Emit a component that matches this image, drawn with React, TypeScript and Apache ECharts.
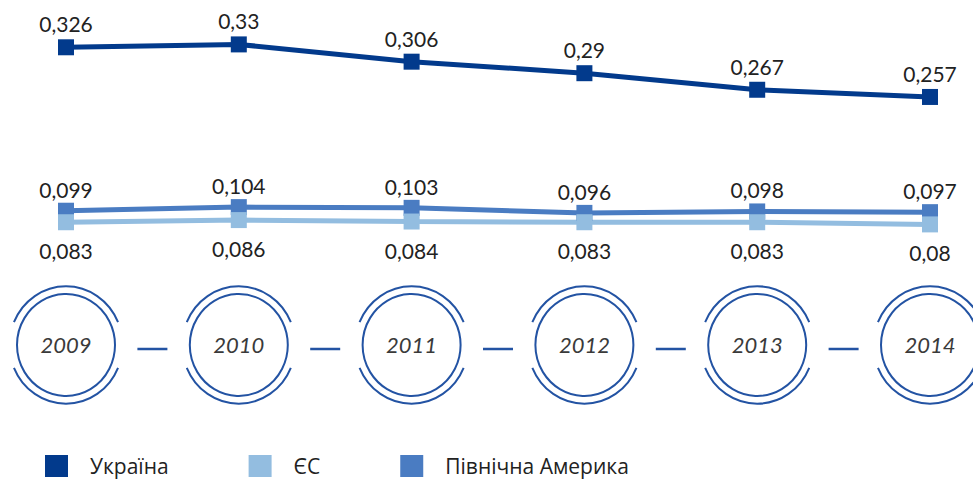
import React, { useEffect, useRef } from "react";
import * as echarts from "echarts";

const years = ["2009", "2010", "2011", "2012", "2013", "2014"];
const ukraine = [0.326, 0.33, 0.306, 0.29, 0.267, 0.257];
const eu = [0.083, 0.086, 0.084, 0.083, 0.083, 0.08];
const northAmerica = [0.099, 0.104, 0.103, 0.096, 0.098, 0.097];
const seriesNames = ["Україна", "ЄС", "Північна Америка"];

const C_UA = "#023a8c";
const C_EU = "#93bde0";
const C_NA = "#4a7cc2";
const C_RING = "#2353a3";

const fmt = (p: any) => String(p.value).replace(".", ",");

export default function App() {
  const ref = useRef<HTMLDivElement>(null);
  useEffect(() => {
    if (!ref.current) return;
    const chart = echarts.init(ref.current, null, { renderer: "svg" });
    const labelBase = {
      show: true,
      formatter: fmt,
      fontFamily: "Lato",
      fontSize: 21,
      color: "#222",
    };
    chart.setOption({
      animation: false,
      grid: [
        { left: 66, right: 43, top: 30, height: 252 },
        { left: 66, right: 43, top: 290, height: 110 },
      ],
      xAxis: [
        { type: "category", data: years, boundaryGap: false, show: false, gridIndex: 0 },
        { type: "category", data: years, boundaryGap: false, show: false, gridIndex: 1 },
      ],
      yAxis: [
        { type: "value", min: 0, max: 0.35, show: false, gridIndex: 0 },
        { type: "value", min: -1, max: 1, show: false, gridIndex: 1 },
      ],
      legend: {
        data: seriesNames,
        left: 45,
        top: 455,
        padding: 0,
        icon: "rect",
        itemWidth: 23,
        itemHeight: 22,
        itemGap: 80,
        textStyle: {
          fontFamily: "Open Sans",
          fontSize: 21,
          color: "#222",
          padding: [0, 0, 0, 17],
        },
      },
      series: [
        {
          name: seriesNames[0],
          type: "line",
          data: ukraine,
          color: C_UA,
          symbol: "rect",
          symbolSize: 16,
          clip: false,
          lineStyle: { width: 5, color: C_UA },
          itemStyle: { color: C_UA },
          label: { ...labelBase, position: "top", distance: 5 },
        },
        {
          name: seriesNames[2],
          type: "line",
          data: northAmerica,
          color: C_NA,
          symbol: "rect",
          symbolSize: 16,
          clip: false,
          lineStyle: { width: 5, color: C_NA },
          itemStyle: { color: C_NA },
          label: { ...labelBase, position: "top", distance: 3 },
        },
        {
          name: seriesNames[1],
          type: "line",
          data: eu,
          color: C_EU,
          symbol: "rect",
          symbolSize: 16,
          clip: false,
          lineStyle: { width: 5, color: C_EU },
          itemStyle: { color: C_EU },
          label: { ...labelBase, position: "bottom", distance: 10 },
        },
        {
          type: "custom",
          xAxisIndex: 1,
          yAxisIndex: 1,
          clip: false,
          silent: true,
          data: years.map((y, i) => [i, 0]),
          renderItem: (params: any, api: any) => {
            const idx = api.value(0);
            const c = api.coord([idx, 0]);
            const g = 0.4;
            const children: any[] = [
              {
                type: "group",
                x: c[0],
                y: c[1],
                scaleY: 1.04,
                children: [
                  {
                    type: "circle",
                    shape: { cx: 0, cy: 0, r: 49 },
                    style: { fill: "none", stroke: C_RING, lineWidth: 2 },
                  },
                  {
                    type: "arc",
                    shape: { cx: 0, cy: 0, r: 56.5, startAngle: Math.PI + g, endAngle: 2 * Math.PI - g, clockwise: true },
                    style: { fill: "none", stroke: C_RING, lineWidth: 2 },
                  },
                  {
                    type: "arc",
                    shape: { cx: 0, cy: 0, r: 56.5, startAngle: g, endAngle: Math.PI - g, clockwise: true },
                    style: { fill: "none", stroke: C_RING, lineWidth: 2 },
                  },
                ],
              },
              {
                type: "text",
                x: c[0],
                y: c[1],
                style: {
                  text: years[idx],
                  x: 0,
                  y: -1,
                  align: "center",
                  verticalAlign: "middle",
                  fontFamily: "Lato",
                  fontStyle: "italic",
                  fontSize: 22,
                  fill: "#3a3a3a",
                },
              },
            ];
            if (idx < years.length - 1) {
              const n = api.coord([idx + 1, 0]);
              const mid = (c[0] + n[0]) / 2;
              children.push({
                type: "line",
                shape: { x1: mid - 15, y1: c[1] + 4, x2: mid + 15, y2: c[1] + 4 },
                style: { stroke: C_RING, lineWidth: 2.5 },
              });
            }
            return { type: "group", children };
          },
        },
      ],
    });
    return () => chart.dispose();
  }, []);
  return (
    <div
      ref={ref}
      style={{ position: "fixed", left: 0, top: 0, width: 973, height: 479, background: "#fff" }}
    />
  );
}
